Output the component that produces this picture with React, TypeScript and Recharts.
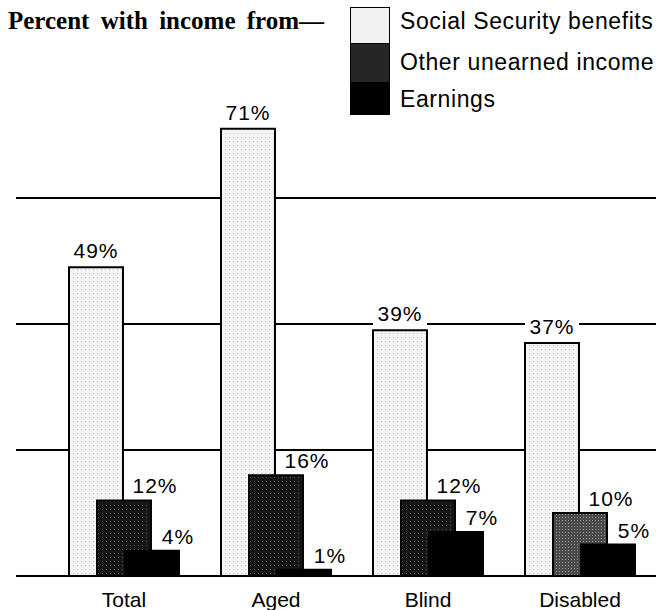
import React from "react";
import { BarChart, Bar, XAxis, YAxis, CartesianGrid, Cell, Legend } from "recharts";

const categories = ["Total", "Aged", "Blind", "Disabled"];
const socialSecurity = [49, 71, 39, 37];
const otherUnearned = [12, 16, 12, 10];
const earnings = [4, 1, 7, 5];
const yTicks = [0, 20, 40, 60];

const data = categories.map((name, i) => ({
  name,
  ss: socialSecurity[i],
  other: otherUnearned[i],
  earn: earnings[i],
}));

const SANS = '"Liberation Sans", Arial, Helvetica, sans-serif';
const OTHER_FILLS = ["url(#darkDots)", "url(#darkDots)", "url(#darkDots)", "url(#grayDots)"];

function pick(p: any) {
  const vb = p.viewBox || {};
  return {
    x: Number(p.x ?? vb.x),
    y: Number(p.y ?? vb.y),
    w: Number(p.width ?? vb.width),
  };
}

const labelStyle = { fontSize: 21, fontFamily: SANS, letterSpacing: 1 };

const ssLabel = (p: any) => {
  const { x, y, w } = pick(p);
  const cx = x + w / 2;
  return (
    <g>
      <rect x={cx - 27} y={y - 29} width={54} height={24} fill="#fff" />
      <text x={cx} y={y - 9} textAnchor="middle" fill="#000" style={labelStyle}>
        {`${p.value}%`}
      </text>
    </g>
  );
};

const otherLabel = (p: any) => {
  const { x, y, w } = pick(p);
  return (
    <text x={x + w + 4} y={y - 7} textAnchor="middle" fill="#000" style={labelStyle}>
      {`${p.value}%`}
    </text>
  );
};

const earnLabel = (p: any) => {
  const { x, y, w } = pick(p);
  return (
    <text x={x + w - 1} y={y - 7} textAnchor="middle" fill="#000" style={labelStyle}>
      {`${p.value}%`}
    </text>
  );
};

const legendLabels = ["Social Security benefits", "Other unearned income", "Earnings"];

function renderLegend() {
  return (
    <div style={{ position: "relative", width: 310, height: 112, fontFamily: SANS }}>
      <div style={{ position: "absolute", left: 0, top: 0, width: 40, height: 108, border: "1.5px solid #000", boxSizing: "border-box", overflow: "hidden" }}>
        <div style={{ height: 35, background: "#f2f2f2", borderBottom: "1px solid #000" }} />
        <div style={{ height: 38, background: "#262626" }} />
        <div style={{ height: 35, background: "#000" }} />
      </div>
      {legendLabels.map((t, i) => (
        <div
          key={t}
          style={{ position: "absolute", left: 50, top: [0, 41, 78][i], fontSize: 23, letterSpacing: 0.6, lineHeight: "28px", color: "#000", whiteSpace: "nowrap" }}
        >
          {t}
        </div>
      ))}
    </div>
  );
}

export default function App() {
  return (
    <div style={{ position: "relative", width: 660, height: 610, background: "#fff" }}>
      <style>{`body{margin:0;background:#fff}`}</style>
      <div
        style={{
          position: "absolute",
          left: 8,
          top: 7,
          fontFamily: '"Liberation Serif", "Times New Roman", serif',
          fontWeight: "bold",
          fontSize: 25,
          wordSpacing: 5,
          zIndex: 2,
          whiteSpace: "nowrap",
        }}
      >
        Percent with income from—
      </div>
      <BarChart
        width={660}
        height={610}
        data={data}
        margin={{ top: 72, right: 4, bottom: 0, left: 16 }}
        barSize={54}
        barGap={-26}
      >
        <defs>
          <pattern id="lightDots" width="4" height="4" patternUnits="userSpaceOnUse">
            <rect width="4" height="4" fill="#f3f3f3" />
            <rect x="1" y="1" width="1" height="1" fill="#c4c4c4" />
          </pattern>
          <pattern id="darkDots" width="4" height="4" patternUnits="userSpaceOnUse">
            <rect width="4" height="4" fill="#161616" />
            <rect x="2" y="1" width="1" height="1" fill="#5a5a5a" />
          </pattern>
          <pattern id="grayDots" width="3" height="3" patternUnits="userSpaceOnUse">
            <rect width="3" height="3" fill="#4a4a4a" />
            <rect x="1" y="1" width="1" height="1" fill="#9a9a9a" />
          </pattern>
        </defs>
        <CartesianGrid vertical={false} stroke="#000" strokeWidth={2} horizontalValues={yTicks} />
        <XAxis
          dataKey="name"
          height={34}
          axisLine={{ stroke: "#000", strokeWidth: 2 }}
          tickLine={false}
          tickMargin={10}
          padding={{ left: 32, right: 0 }}
          tick={{ fill: "#000", fontSize: 21, fontFamily: SANS }}
        />
        <YAxis hide domain={[0, 80]} ticks={yTicks} />
        <Legend
          layout="horizontal"
          verticalAlign="middle"
          align="center"
          content={renderLegend}
          wrapperStyle={{ position: "absolute", left: 350, top: 7, width: 310, height: 112 }}
        />
        <Bar dataKey="ss" name="Social Security benefits" fill="url(#lightDots)" stroke="#000" strokeWidth={2} isAnimationActive={false} label={ssLabel} />
        <Bar dataKey="other" name="Other unearned income" fill="url(#darkDots)" stroke="#000" strokeWidth={2} isAnimationActive={false} label={otherLabel}>
          {data.map((_, i) => (
            <Cell key={i} fill={OTHER_FILLS[i]} />
          ))}
        </Bar>
        <Bar dataKey="earn" name="Earnings" fill="#000" stroke="#000" strokeWidth={2} isAnimationActive={false} label={earnLabel} />
      </BarChart>
    </div>
  );
}
